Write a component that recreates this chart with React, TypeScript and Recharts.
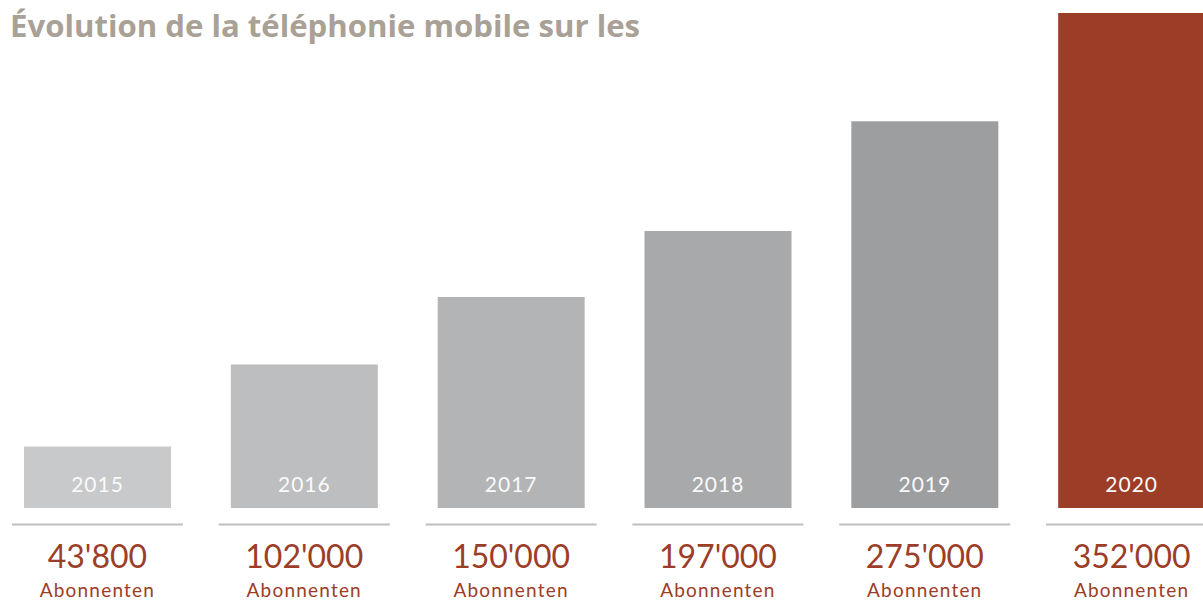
import React from "react";
import { Bar, BarChart, Cell, LabelList, XAxis, YAxis } from "recharts";

const title = "Évolution de la téléphonie mobile sur les";
const years = ["2015", "2016", "2017", "2018", "2019", "2020"];
const subscribers = [43800, 102000, 150000, 197000, 275000, 352000];
const valueLabels = ["43'800", "102'000", "150'000", "197'000", "275'000", "352'000"];
const unitLabel = "Abonnenten";

const barColors = ["#C8C9CB", "#BDBEC0", "#B3B4B6", "#A8A9AB", "#9D9EA0", "#9C3D28"];
const RED = "#9C3D28";
const FONT = "Lato, 'Open Sans', sans-serif";

const data = years.map((year, i) => ({ year, subscribers: subscribers[i] }));

// separator line + value + unit under each bar
const BottomTick = (props: any) => {
  const { x, y, payload } = props;
  const i = payload.index;
  return (
    <g>
      <line x1={x - 85.5} x2={x + 85.5} y1={y + 16.5} y2={y + 16.5} stroke="#BEBEBE" strokeWidth={2} />
      <text x={x} y={y + 60} textAnchor="middle" fill={RED} fontSize={32} fontFamily={FONT}>
        {valueLabels[i]}
      </text>
      <text x={x} y={y + 89} textAnchor="middle" fill={RED} fontSize={19} letterSpacing={1.2} fontFamily={FONT}>
        {unitLabel}
      </text>
    </g>
  );
};

// year label inside the bottom of each bar
const YearLabel = (props: any) => {
  const { x, y, width, height, value } = props;
  return (
    <text
      x={x + width / 2}
      y={y + height - 16.5}
      textAnchor="middle"
      fill="#FAFAFA"
      fontSize={21}
      fontWeight={400}
      letterSpacing={1}
      fontFamily={FONT}
    >
      {value}
    </text>
  );
};

const App = () => {
  return (
    <div
      style={{
        position: "absolute",
        left: 0,
        top: 0,
        width: 1203,
        height: 612,
        overflow: "hidden",
        background: "#fff",
      }}
    >
      <div style={{ position: "absolute", left: -6, top: 0 }}>
        <BarChart width={1241} height={612} data={data} margin={{ top: 13, right: 0, left: 0, bottom: 0 }}>
          <XAxis
            dataKey="year"
            height={104}
            axisLine={false}
            tickLine={false}
            tickSize={0}
            tickMargin={0}
            interval={0}
            tick={<BottomTick />}
          />
          <YAxis hide domain={[0, "dataMax"]} />
          <Bar dataKey="subscribers" barSize={147} isAnimationActive={false}>
            {data.map((d, i) => (
              <Cell key={d.year} fill={barColors[i]} />
            ))}
            <LabelList dataKey="year" content={<YearLabel />} />
          </Bar>
        </BarChart>
      </div>
      <svg width={700} height={50} style={{ position: "absolute", left: 0, top: 0 }}>
        <text
          x={10}
          y={37}
          fill="#A9A096"
          fontSize={30}
          fontWeight={700}
          fontFamily="'Open Sans', sans-serif"
          textLength={630}
          lengthAdjust="spacingAndGlyphs"
        >
          {title}
        </text>
      </svg>
    </div>
  );
};

export default App;
